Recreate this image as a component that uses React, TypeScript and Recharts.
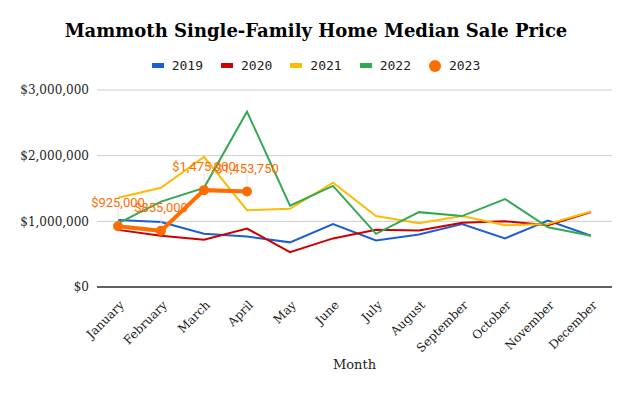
import { LineChart, Line, XAxis, YAxis, CartesianGrid, LabelList } from 'recharts';

const months = [
  'January', 'February', 'March', 'April', 'May', 'June',
  'July', 'August', 'September', 'October', 'November', 'December',
];

const sales2019 = [1020000, 990000, 810000, 770000, 680000, 960000, 710000, 800000, 960000, 740000, 1010000, 780000];
const sales2020 = [870000, 780000, 720000, 890000, 530000, 740000, 870000, 860000, 980000, 1000000, 940000, 1140000];
const sales2021 = [1360000, 1510000, 1980000, 1170000, 1190000, 1590000, 1080000, 970000, 1080000, 940000, 960000, 1150000];
const sales2022 = [970000, 1300000, 1510000, 2670000, 1240000, 1540000, 810000, 1140000, 1080000, 1340000, 910000, 780000];
const sales2023 = [925000, 855000, 1475000, 1453750];

const yTicks = [0, 1000000, 2000000, 3000000];

const SERIES = [
  { key: '2019', color: '#1c5fd4' },
  { key: '2020', color: '#cc0000' },
  { key: '2021', color: '#fbbc04' },
  { key: '2022', color: '#34a853' },
  { key: '2023', color: '#ff6d01' },
];

const data = months.map((m, i) => ({
  month: m,
  '2019': sales2019[i],
  '2020': sales2020[i],
  '2021': sales2021[i],
  '2022': sales2022[i],
  '2023': i < sales2023.length ? sales2023[i] : null,
}));

const money = (v: number) => '$' + Number(v).toLocaleString('en-US');

const SERIF = '"DejaVu Serif", Georgia, serif';

function MonthTick({ x, y, payload }: any) {
  return (
    <g transform={`translate(${x + 4},${y + 8})`}>
      <text
        transform="rotate(-45)"
        textAnchor="end"
        dominantBaseline="central"
        fontFamily={SERIF}
        fontSize={12}
        fill="#222"
      >
        {payload.value}
      </text>
    </g>
  );
}

function PointLabel({ x, y, value }: any) {
  if (value == null || x == null || y == null) return null;
  return (
    <g>
      <line x1={x} y1={y - 6} x2={x} y2={y - 18} stroke="#e6e6e6" strokeWidth={1} />
      <text
        x={x}
        y={y - 19}
        textAnchor="middle"
        fontFamily="Roboto, sans-serif"
        fontSize={13}
        fill="#ff6d01"
      >
        {money(value)}
      </text>
    </g>
  );
}

export default function App() {
  return (
    <div style={{ position: 'absolute', left: 0, top: 0, width: 632, height: 393, background: '#fff' }}>
      <div
        style={{
          position: 'absolute',
          top: 20,
          width: 632,
          textAlign: 'center',
          fontFamily: SERIF,
          fontWeight: 'bold',
          fontSize: 18,
          color: '#000',
        }}
      >
        Mammoth Single-Family Home Median Sale Price
      </div>

      {/* Legend */}
      <div
        style={{
          position: 'absolute',
          top: 58,
          width: 632,
          display: 'flex',
          justifyContent: 'center',
          gap: 18,
          fontFamily: '"DejaVu Sans Mono", monospace',
          fontSize: 13,
          color: '#222',
        }}
      >
        {SERIES.map((s) => (
          <div key={s.key} style={{ display: 'flex', alignItems: 'center', gap: 8 }}>
            {s.key === '2023' ? (
              <span style={{ width: 12, height: 12, borderRadius: 6, background: s.color }} />
            ) : (
              <span style={{ width: 12, height: 5, background: s.color }} />
            )}
            <span>{s.key}</span>
          </div>
        ))}
      </div>

      <div style={{ position: 'absolute', left: 0, top: 0 }}>
        <LineChart width={632} height={393} data={data} margin={{ top: 90, right: 20, bottom: 0, left: 0 }}>
          <CartesianGrid vertical={false} stroke="#cccccc" />
          <XAxis
            dataKey="month"
            interval={0}
            height={106}
            padding={{ left: 21, right: 21 }}
            tick={<MonthTick />}
            tickLine={false}
            axisLine={{ stroke: '#333', strokeWidth: 1.5 }}
            label={{
              value: 'Month',
              position: 'insideBottom',
              offset: 24,
              fontFamily: SERIF,
              fontSize: 13,
              fill: '#222',
            }}
          />
          <YAxis
            width={97}
            domain={[0, 3000000]}
            ticks={yTicks}
            tickFormatter={money}
            axisLine={false}
            tickLine={false}
            tick={{ fontFamily: SERIF, fontSize: 12, fill: '#222' }}
          />
          {SERIES.slice(0, 4).map((s) => (
            <Line
              key={s.key}
              dataKey={s.key}
              stroke={s.color}
              strokeWidth={2}
              dot={false}
              type="linear"
              isAnimationActive={false}
            />
          ))}
          <Line
            dataKey="2023"
            stroke="#ff6d01"
            strokeWidth={4}
            dot={{ r: 5, fill: '#ff6d01', stroke: '#ff6d01', strokeWidth: 0 }}
            type="linear"
            connectNulls={false}
            isAnimationActive={false}
          >
            <LabelList dataKey="2023" content={<PointLabel />} />
          </Line>
        </LineChart>
      </div>
    </div>
  );
}
